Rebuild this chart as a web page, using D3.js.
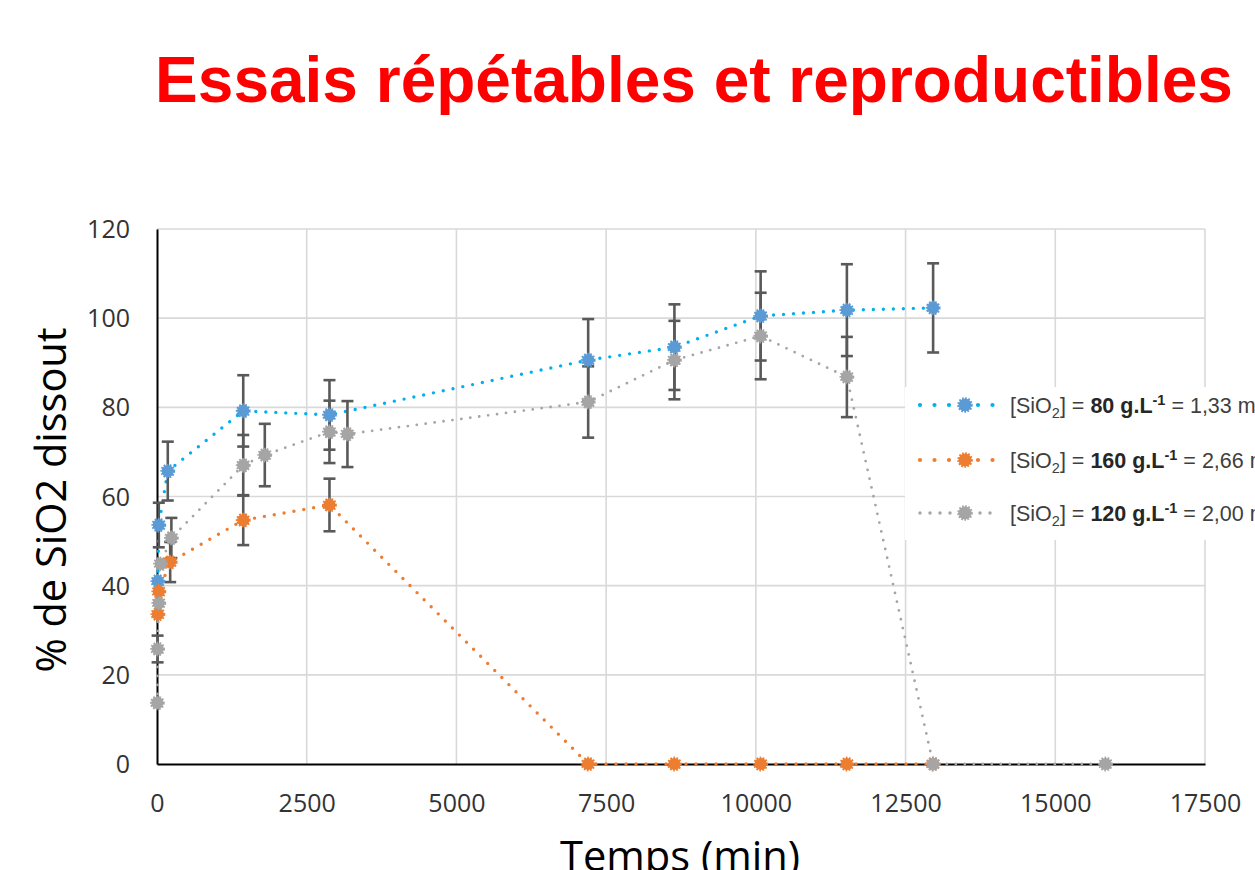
<!DOCTYPE html>
<html>
<head>
<meta charset="utf-8">
<script src="https://cdn.jsdelivr.net/npm/d3@7"></script>
<style>
  html, body { margin: 0; padding: 0; background: #ffffff; overflow: hidden; }
  svg { display: block; }
</style>
</head>
<body>
<svg id="chart" width="1255" height="870"></svg>
<script>
// ---------------- DATA ----------------
const chartTitle = "Essais répétables et reproductibles";
const xAxisTitle = "Temps (min)";
const yAxisTitle = "% de SiO2 dissout";

const xTicks = [0, 2500, 5000, 7500, 10000, 12500, 15000, 17500];
const yTicks = [0, 20, 40, 60, 80, 100, 120];

// Series 1 : [SiO2] = 80 g/L
const timeBlue = [15, 30, 180, 1440, 2880, 7200, 8640, 10080, 11520, 12960];
const valBlue  = [41.0, 53.6, 65.7, 79.2, 78.3, 90.6, 93.5, 100.5, 101.8, 102.3];
const errBlue  = [0, 5, 6.6, 8, 7.8, 9.2, 9.6, 10, 10.3, 10];

// Series 2 : [SiO2] = 160 g/L
const timeOrange = [15, 30, 220, 1440, 2880, 7200, 8640, 10080, 11520, 12960];
const valOrange  = [33.6, 38.7, 45.3, 54.7, 58.1, 0, 0, 0, 0, 0];
const errOrange  = [0, 0, 4.5, 5.6, 5.9, 0, 0, 0, 0, 0];

// Series 3 : [SiO2] = 120 g/L
const timeGray = [5, 10, 30, 60, 240, 1440, 1800, 2880, 3180, 7200, 8640, 10080, 11520, 12960, 15840];
const valGray  = [13.7, 25.8, 36.1, 44.9, 50.7, 67.0, 69.3, 74.5, 74.0, 81.2, 90.6, 96.0, 86.8, 0, 0];
const errGray  = [0, 3, 0, 0, 4.5, 6.8, 7, 7, 7.4, 8, 8.8, 9.7, 9, 0, 0];

const legendConc   = ["80", "160", "120"];
const legendMolar  = ["1,33", "2,66", "2,00"];

// ---------------- STYLE ----------------
const seriesStyle = [
  { line: "#00B0F0", fill: "#5B9BD5", w: 3.4, gap: 10, lw: 4.2, lgap: 14.5 },
  { line: "#ED7D31", fill: "#ED7D31", w: 3.4, gap: 10, lw: 4.2, lgap: 14.5 },
  { line: "#A5A5A5", fill: "#A5A5A5", w: 2.8, gap: 9,  lw: 3.4, lgap: 10 }
];

const series = [
  { t: timeBlue,   v: valBlue,   e: errBlue },
  { t: timeOrange, v: valOrange, e: errOrange },
  { t: timeGray,   v: valGray,   e: errGray }
].map((s, i) => ({
  style: seriesStyle[i],
  conc: legendConc[i],
  molar: legendMolar[i],
  pts: s.t.map((t, j) => ({ t: t, v: s.v[j], e: s.e[j] }))
}));

// ---------------- LAYOUT ----------------
const svg = d3.select("#chart");
svg.append("rect").attr("width", 1255).attr("height", 870).attr("fill", "#fff");

const x = d3.scaleLinear().domain([0, 17500]).range([157, 1205]);
const y = d3.scaleLinear().domain([0, 120]).range([764, 229]);

// Title
svg.append("text")
  .attr("x", 694).attr("y", 102)
  .attr("text-anchor", "middle")
  .attr("font-family", "'Liberation Sans', Arial, sans-serif")
  .attr("font-weight", "bold")
  .attr("font-size", 64)
  .attr("fill", "#FF0000")
  .text(chartTitle);

// Gridlines
const grid = svg.append("g");
grid.selectAll("line.h").data(yTicks.filter(d => d > 0)).join("line")
  .attr("x1", x(0)).attr("x2", x(17500))
  .attr("y1", d => y(d)).attr("y2", d => y(d))
  .attr("stroke", "#D9D9D9").attr("stroke-width", 1.6);
grid.selectAll("line.v").data(xTicks.filter(d => d > 0)).join("line")
  .attr("x1", d => x(d)).attr("x2", d => x(d))
  .attr("y1", y(0)).attr("y2", y(120))
  .attr("stroke", "#D9D9D9").attr("stroke-width", 1.6);

// Axes
const tickFont = "'Open Sans', sans-serif";
const xAxis = svg.append("g").attr("transform", `translate(0,${y(0)})`)
  .call(d3.axisBottom(x).tickValues(xTicks).tickSize(0).tickPadding(0).tickFormat(d3.format("d")));
xAxis.select(".domain").attr("stroke", "#000").attr("stroke-width", 2);
xAxis.selectAll("text")
  .attr("font-family", tickFont).attr("font-size", 25).attr("fill", "#333")
  .attr("dy", null).attr("y", 48);

const yAxis = svg.append("g").attr("transform", `translate(${x(0)},0)`)
  .call(d3.axisLeft(y).tickValues(yTicks).tickSize(0).tickPadding(27));
yAxis.select(".domain").attr("stroke", "#000").attr("stroke-width", 2);
yAxis.selectAll("text")
  .attr("font-family", tickFont).attr("font-size", 25).attr("fill", "#333")
  .attr("dy", "0.34em");

// Axis titles
svg.append("text")
  .attr("x", 680).attr("y", 871)
  .attr("text-anchor", "middle")
  .attr("font-family", tickFont).attr("font-size", 41.6).attr("fill", "#000")
  .text(xAxisTitle);
svg.append("text")
  .attr("transform", "translate(66,500) rotate(-90)")
  .attr("text-anchor", "middle")
  .attr("font-family", tickFont).attr("font-size", 41.5).attr("fill", "#000")
  .text(yAxisTitle);

// Series lines
const lineGen = d3.line().x(d => x(d.t)).y(d => y(d.v));
const plot = svg.append("g");
series.forEach(s => {
  plot.append("path")
    .datum(s.pts)
    .attr("d", lineGen)
    .attr("fill", "none")
    .attr("stroke", s.style.line)
    .attr("stroke-width", s.style.w)
    .attr("stroke-linecap", "round")
    .attr("stroke-dasharray", `0 ${s.style.gap}`);
});

// Error bars
const errG = svg.append("g");
series.forEach(s => {
  const pe = s.pts.filter(d => d.e > 0);
  errG.selectAll(null).data(pe).join("line")
    .attr("x1", d => x(d.t)).attr("x2", d => x(d.t))
    .attr("y1", d => y(d.v + d.e)).attr("y2", d => y(d.v - d.e))
    .attr("stroke", "#595959").attr("stroke-width", 2.6);
  [1, -1].forEach(sg => {
    errG.selectAll(null).data(pe).join("line")
      .attr("x1", d => x(d.t) - 6).attr("x2", d => x(d.t) + 6)
      .attr("y1", d => y(d.v + sg * d.e)).attr("y2", d => y(d.v + sg * d.e))
      .attr("stroke", "#595959").attr("stroke-width", 2.6);
  });
});

// Markers
function marker(g, cx, cy, st, r) {
  g.append("circle").attr("cx", cx).attr("cy", cy).attr("r", r)
    .attr("fill", st.fill)
    .attr("stroke", st.fill).attr("stroke-width", 2.6)
    .attr("stroke-dasharray", "1.6 1.4");
}
const mk = svg.append("g");
series.forEach(s => {
  s.pts.forEach(d => marker(mk, x(d.t), y(d.v), s.style, 6.1));
});

// Legend
const leg = svg.append("g");
leg.append("rect").attr("x", 905).attr("y", 387).attr("width", 360).attr("height", 153).attr("fill", "#fff");
const legY = [405, 460, 513];
series.forEach((s, i) => {
  const ly = legY[i];
  leg.append("line")
    .attr("x1", 920).attr("x2", 999).attr("y1", ly).attr("y2", ly)
    .attr("stroke", s.style.line).attr("stroke-width", s.style.lw)
    .attr("stroke-linecap", "round")
    .attr("stroke-dasharray", `0 ${s.style.lgap}`);
  marker(leg, 965, ly, s.style, 6.5);
  const t = leg.append("text")
    .attr("x", 1010).attr("y", ly + 8)
    .attr("font-family", "'Liberation Sans', Arial, sans-serif")
    .attr("font-size", 21.5).attr("fill", "#404040");
  t.append("tspan").text("[SiO");
  t.append("tspan").attr("font-size", 14.5).attr("dy", 5).text("2");
  t.append("tspan").attr("dy", -5).text("] = ");
  t.append("tspan").attr("font-weight", "bold").attr("fill", "#262626").text(s.conc + " g.L");
  t.append("tspan").attr("font-weight", "bold").attr("fill", "#262626").attr("font-size", 14.5).attr("dy", -8).text("-1");
  t.append("tspan").attr("dy", 8).text(" = " + s.molar + " mol.L");
  t.append("tspan").attr("font-size", 14.5).attr("dy", -8).text("-1");
});
</script>
</body>
</html>
